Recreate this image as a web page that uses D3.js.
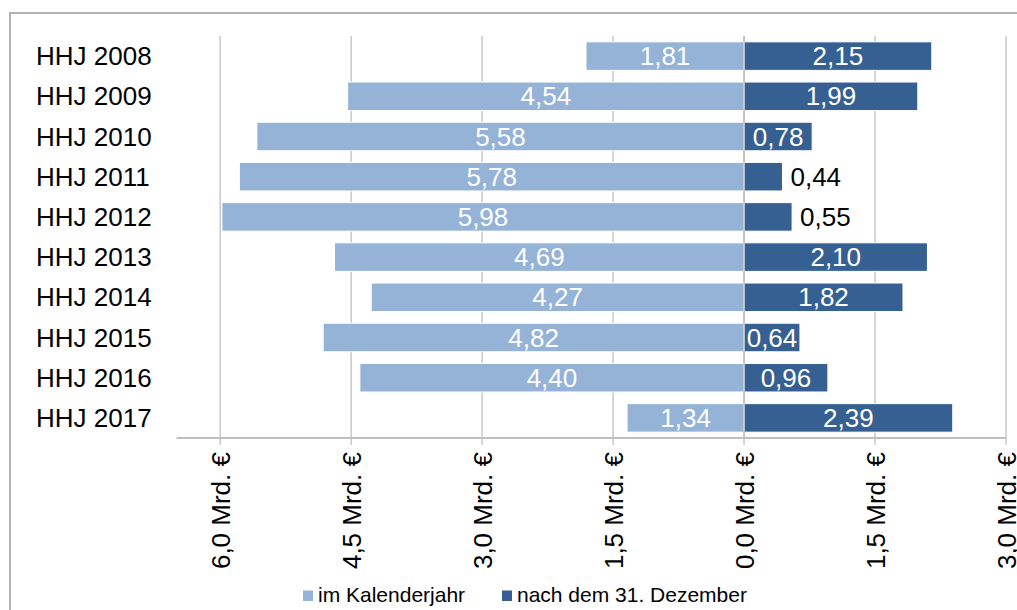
<!DOCTYPE html>
<html lang="de">
<head>
  <meta charset="UTF-8">
  <script src="https://d3js.org/d3.v7.min.js"></script>
  <title></title>
  <style>
    body { margin: 0; background: #fff; }
    text { font-family: Arial, 'Liberation Sans', sans-serif; }
  </style>
</head>
<body>
  <script>
  var categories = ['HHJ 2008', 'HHJ 2009', 'HHJ 2010', 'HHJ 2011', 'HHJ 2012',
                    'HHJ 2013', 'HHJ 2014', 'HHJ 2015', 'HHJ 2016', 'HHJ 2017'];
  var kalenderjahr = [1.81, 4.54, 5.58, 5.78, 5.98, 4.69, 4.27, 4.82, 4.40, 1.34];
  var nachDezember = [2.15, 1.99, 0.78, 0.44, 0.55, 2.10, 1.82, 0.64, 0.96, 2.39];
  var tickValues = [-6, -4.5, -3, -1.5, 0, 1.5, 3];
  var seriesNames = ['im Kalenderjahr', 'nach dem 31. Dezember'];
  var colors = ['#95b3d7', '#376092'];

  var width = 1017, height = 610;
  var fmt = function(v) { return d3.format('.2f')(v).replace('.', ','); };

  var svg = d3.select('body').append('svg')
    .attr('width', width)
    .attr('height', height);

  // outer frame
  svg.append('path')
    .attr('d', 'M10,' + height + 'V13H' + width)
    .attr('fill', 'none')
    .attr('stroke', '#b3b3b3')
    .attr('stroke-width', 2);

  var x = d3.scaleLinear().domain([-6.5, 3]).range([176.5, 1006]);
  var y = d3.scaleBand().domain(categories).range([36, 438])
    .paddingInner(0.29).paddingOuter(0.145);

  // gridlines
  svg.append('g').selectAll('line')
    .data(tickValues)
    .enter().append('line')
      .attr('x1', function(d) { return x(d); })
      .attr('x2', function(d) { return x(d); })
      .attr('y1', 36)
      .attr('y2', 445)
      .attr('stroke', '#c8c8c8')
      .attr('stroke-width', 1.5);

  // axis line
  svg.append('line')
    .attr('x1', x(-6.5)).attr('x2', x(3))
    .attr('y1', 438).attr('y2', 438)
    .attr('stroke', '#bfbfbf')
    .attr('stroke-width', 2);

  // tick labels, rotated
  svg.append('g').selectAll('text')
    .data(tickValues)
    .enter().append('text')
      .attr('transform', function(d) { return 'translate(' + (x(d) + 10) + ',452) rotate(-90)'; })
      .attr('text-anchor', 'end')
      .attr('font-size', 26)
      .attr('fill', '#000')
      .text(function(d) { return d3.format('.1f')(Math.abs(d)).replace('.', ',') + ' Mrd. €'; });

  var rows = categories.map(function(c, i) {
    return {cat: c, left: kalenderjahr[i], right: nachDezember[i]};
  });

  // bars
  var bars = svg.append('g');
  bars.selectAll('rect.left')
    .data(rows)
    .enter().append('rect')
      .attr('class', 'left')
      .attr('x', function(d) { return x(-d.left); })
      .attr('y', function(d) { return y(d.cat); })
      .attr('width', function(d) { return x(0) - x(-d.left); })
      .attr('height', y.bandwidth())
      .attr('fill', colors[0])
      .attr('stroke', '#fff')
      .attr('stroke-width', 1);
  bars.selectAll('rect.right')
    .data(rows)
    .enter().append('rect')
      .attr('class', 'right')
      .attr('x', x(0))
      .attr('y', function(d) { return y(d.cat); })
      .attr('width', function(d) { return x(d.right) - x(0); })
      .attr('height', y.bandwidth())
      .attr('fill', colors[1])
      .attr('stroke', '#fff')
      .attr('stroke-width', 1);

  // zero line on top
  svg.append('line')
    .attr('x1', x(0)).attr('x2', x(0))
    .attr('y1', 36).attr('y2', 438)
    .attr('stroke', '#bfbfbf')
    .attr('stroke-width', 1.5);

  // value labels
  var labels = svg.append('g').attr('font-size', 26);
  labels.selectAll('text.left')
    .data(rows)
    .enter().append('text')
      .attr('x', function(d) { return (x(-d.left) + x(0)) / 2; })
      .attr('y', function(d) { return y(d.cat) + y.bandwidth() / 2 + 9; })
      .attr('text-anchor', 'middle')
      .attr('fill', '#fff')
      .text(function(d) { return fmt(d.left); });
  labels.selectAll('text.right')
    .data(rows)
    .enter().append('text')
      .attr('y', function(d) { return y(d.cat) + y.bandwidth() / 2 + 9; })
      .text(function(d) { return fmt(d.right); })
      .each(function(d) {
        var t = d3.select(this);
        var w = this.getComputedTextLength();
        var bw = x(d.right) - x(0);
        if (w + 4 < bw) {
          t.attr('x', x(0) + bw / 2).attr('text-anchor', 'middle').attr('fill', '#fff');
        } else {
          t.attr('x', x(d.right) + 8).attr('text-anchor', 'start').attr('fill', '#000');
        }
      });

  // category labels
  svg.append('g').selectAll('text')
    .data(categories)
    .enter().append('text')
      .attr('x', 36)
      .attr('y', function(d) { return y(d) + y.bandwidth() / 2 + 9; })
      .attr('font-size', 26)
      .attr('fill', '#000')
      .text(function(d) { return d; });

  // legend
  var legendX = [303, 502];
  var legend = svg.append('g').selectAll('g')
    .data(seriesNames)
    .enter().append('g')
      .attr('transform', function(d, i) { return 'translate(' + legendX[i] + ',0)'; });
  legend.append('rect')
    .attr('x', 0).attr('y', 590.5)
    .attr('width', 10).attr('height', 10.5)
    .attr('fill', function(d, i) { return colors[i]; });
  legend.append('text')
    .attr('x', 15).attr('y', 601.5)
    .attr('font-size', 21)
    .attr('fill', '#000')
    .text(function(d) { return d; });
  </script>
</body>
</html>
